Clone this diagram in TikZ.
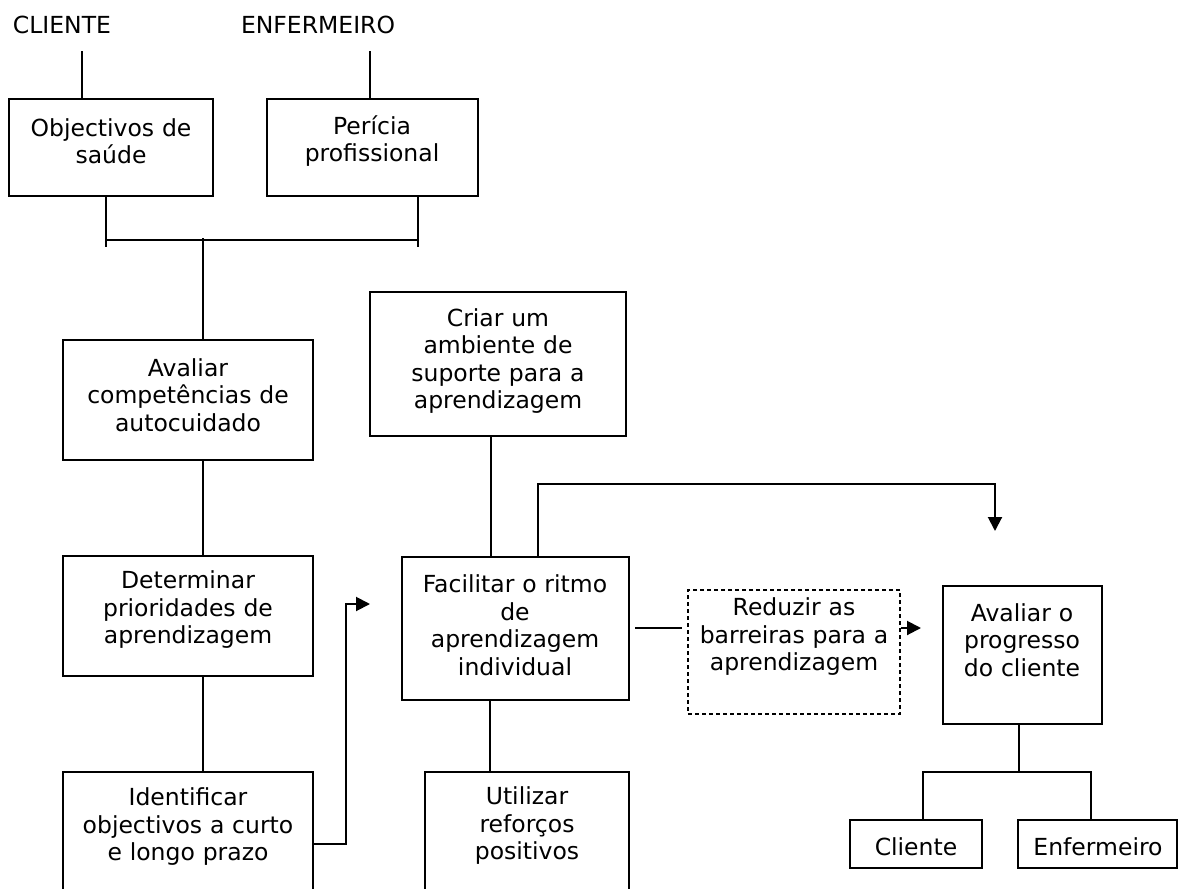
\documentclass[tikz,border=0pt]{standalone}
\usepackage{fontspec}
\setmainfont{DejaVu Sans}
\usetikzlibrary{fit,arrows.meta}
\begin{document}
\begin{tikzpicture}[x=0.5pt,y=-0.5pt,
  box/.style={draw,line width=1pt,inner sep=0pt},
  dbox/.style={box,dash pattern=on 2pt off 1.5pt},
  txt/.style={align=center,inner sep=0pt,text width=125pt,font=\fontsize{11.75}{13.75}\selectfont},
  link/.style={line width=1pt},
  arr/.style={line width=1pt,-{Triangle[length=7pt,width=7pt]}}]
\useasboundingbox (0,0) rectangle (1179,889);
\clip (0,0) rectangle (1179,889);

% actors
\node[txt] (cli) at (62,25) {CLIENTE};
\node[txt] (enfa) at (318,25) {ENFERMEIRO};

% boxes
\node[box,fit={(9,99) (213,196)}] (obj) {};
\node[box,fit={(267,99) (478,196)}] (per) {};
\node[box,fit={(63,340) (313,460)}] (aval) {};
\node[box,fit={(63,556) (313,676)}] (det) {};
\node[box,fit={(63,772) (313,910)}] (ide) {};
\node[box,fit={(370,292) (626,436)}] (cri) {};
\node[box,fit={(402,557) (629,700)}] (fac) {};
\node[box,fit={(425,772) (629,910)}] (uti) {};
\node[dbox,fit={(688,590) (900,714)}] (red) {};
\node[box,fit={(943,586) (1102,724)}] (prog) {};
\node[box,fit={(850,820) (982,868)}] (cl) {};
\node[box,fit={(1018,820) (1177,868)}] (enf) {};

% box texts
\node[txt] (objT) at (111,141) {Objectivos de\\saúde};
\node[txt] (perT) at (372,141) {Perícia\\profissional};
\node[txt] (avalT) at (188,395) {Avaliar\\competências de\\autocuidado};
\node[txt] (detT) at (188,610) {Determinar\\prioridades de\\aprendizagem};
\node[txt] (ideT) at (188,827) {Identificar\\objectivos a curto\\e longo prazo};
\node[txt] (criT) at (498,361) {Criar um\\ambiente de\\suporte para a\\aprendizagem};
\node[txt] (facT) at (515,625) {Facilitar o ritmo\\de\\aprendizagem\\individual};
\node[txt] (utiT) at (527,826) {Utilizar\\reforços\\positivos};
\node[txt] (redT) at (794,637) {Reduzir as\\barreiras para a\\aprendizagem};
\node[txt] (progT) at (1022,640) {Avaliar o\\progresso\\do cliente};
\node[txt] (clT) at (916,847) {Cliente};
\node[txt] (enfT) at (1098,847) {Enfermeiro};

% joints
\coordinate (cliA) at (82,51);
\coordinate (enfA) at (370,51);
\coordinate (bL) at (106,240);
\coordinate (bR) at (418,240);
\coordinate (bM) at (203,240);
\coordinate (bLd) at (106,247);
\coordinate (bRd) at (418,247);
\coordinate (bMu) at (203,238);
\coordinate (j1) at (346,844);
\coordinate (t1) at (370,604);
\coordinate (cx) at (491,0);
\coordinate (ux) at (490,0);
\coordinate (j2) at (538,484);
\coordinate (t2) at (995,531);
\coordinate (cy) at (0,628);
\coordinate (k) at (1019,772);
\coordinate (kl) at (923,772);
\coordinate (kr) at (1091,772);

% connectors
\draw[link] (cliA) -- (cliA |- obj.north);
\draw[link] (enfA) -- (enfA |- per.north);
\draw[link] (obj.south -| bL) -- (bLd);
\draw[link] (per.south -| bR) -- (bRd);
\draw[link] (bL) -- (bR);
\draw[link] (bMu) -- (aval.north -| bM);
\draw[link] (aval.south -| bM) -- (det.north -| bM);
\draw[link] (det.south -| bM) -- (ide.north -| bM);
\draw[arr] (ide.east |- j1) -- (j1) |- (t1);
\draw[link] (cri.south -| cx) -- (fac.north -| cx);
\draw[link] (fac.south -| ux) -- (uti.north -| ux);
\draw[arr] (fac.north -| j2) -- (j2) -| (t2);
\draw[link,shorten <=2.5pt,shorten >=2.5pt] (fac.east |- cy) -- (red.west |- cy);
\draw[arr,shorten >=10.5pt] (red.east |- cy) -- (prog.west |- cy);
\draw[link] (prog.south -| k) -- (k);
\draw[link] (cl.north -| kl) -- (kl) -- (kr) -- (enf.north -| kr);
\end{tikzpicture}
\end{document}
